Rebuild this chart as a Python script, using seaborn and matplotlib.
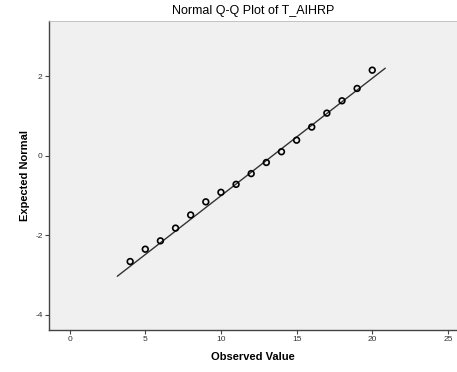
import matplotlib
matplotlib.use("Agg")
import matplotlib.pyplot as plt
import seaborn as sns
import pandas as pd

observed = [4, 5, 6, 7, 8, 9, 10, 11, 12, 13, 14, 15, 16, 17, 18, 19, 20]
expected = [-2.66, -2.35, -2.14, -1.82, -1.49, -1.16, -0.92, -0.72, -0.45, -0.17,
            0.10, 0.39, 0.72, 1.07, 1.38, 1.69, 2.15]
line_x = [3.15, 20.86]
line_y = [-3.03, 2.20]
x_ticks = [0, 5, 10, 15, 20, 25]
y_ticks = [-4, -2, 0, 2]

sns.set_style("white")
plt.rcParams['font.family'] = ['Liberation Sans', 'DejaVu Sans']
plt.rcParams['axes.unicode_minus'] = False

df = pd.DataFrame({"Observed Value": observed, "Expected Normal": expected})
ldf = pd.DataFrame({"x": line_x, "y": line_y})

fig = plt.figure(figsize=(4.57, 3.72), dpi=100)
ax = fig.add_axes([0.107, 0.113, 0.893, 0.831])
ax.set_facecolor("#f0f0f0")

sns.lineplot(data=ldf, x="x", y="y", ax=ax, color="#333333", linewidth=1.0)
sns.scatterplot(data=df, x="Observed Value", y="Expected Normal", ax=ax,
                marker="o", s=17, facecolor="none", edgecolor="black", linewidth=1.2,
                zorder=3)

ax.set_xlim(-1.37, 25.6)
ax.set_ylim(-4.38, 3.39)
ax.set_xticks(x_ticks)
ax.set_yticks(y_ticks)
ax.tick_params(axis="both", direction="out", length=3, width=0.8, color="#444444",
               labelsize=6, labelcolor="#333333", pad=1.5)
ax.tick_params(bottom=True, left=True)

for s in ["left", "bottom"]:
    ax.spines[s].set_color("#444444")
    ax.spines[s].set_linewidth(1.0)
ax.spines["top"].set_color("#bbbbbb")
ax.spines["top"].set_linewidth(0.6)
ax.spines["right"].set_visible(False)

ax.set_xlabel("Observed Value", fontsize=8, fontweight="bold", labelpad=6, color="black")
ax.set_ylabel("Expected Normal", fontsize=8, fontweight="bold", labelpad=4, color="black")
ax.set_title("Normal Q-Q Plot of T_AIHRP", fontsize=9, pad=5, color="black",
             fontweight="medium")

fig.savefig("out.png", dpi=100)
